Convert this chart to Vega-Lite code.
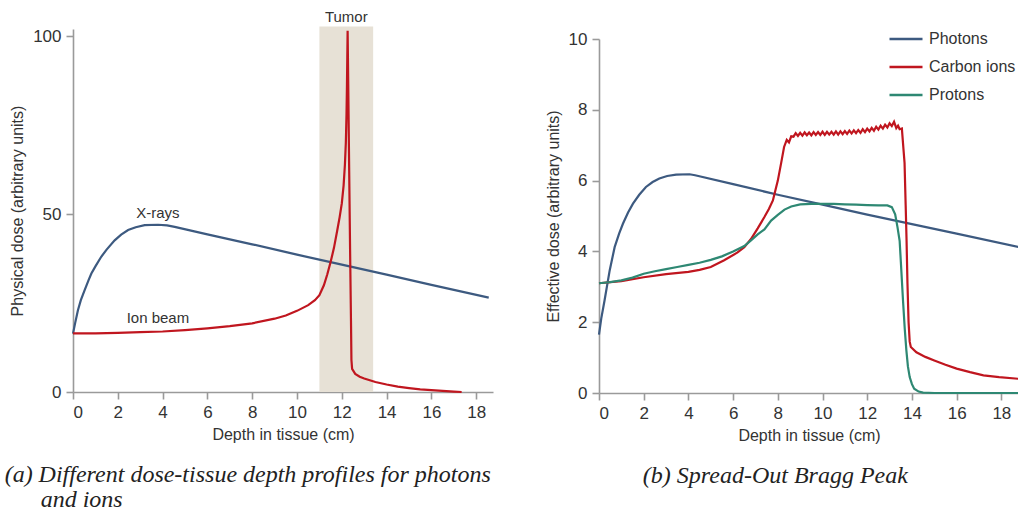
{
  "$schema": "https://vega.github.io/schema/vega-lite/v6.json",
  "padding": {"left": 4, "top": 10, "right": 0, "bottom": 0},
  "background": "white",
  "spacing": 51,
  "resolve": {"scale": {"color": "independent"}, "legend": {"color": "independent"}},
  "config": {
    "font": "Liberation Sans",
    "view": {"stroke": null},
    "axis": {
      "grid": false,
      "domainColor": "#9a9a9a", "domainWidth": 1.6,
      "tickColor": "#9a9a9a", "tickWidth": 1.6, "tickSize": 7,
      "labelFontSize": 17, "labelColor": "#333333", "labelPadding": 5,
      "titleFontSize": 16, "titleFontWeight": "normal", "titleColor": "#333333"
    },
    "title": {"font": "Liberation Serif", "fontStyle": "italic", "fontSize": 24, "fontWeight": "normal", "color": "#222222", "orient": "bottom", "lineHeight": 25}
  },
  "datasets": {
    "tumor": [{"depth": 11.0, "depth2": 13.4, "dose": 0, "dose2": 102.7}],
    "labelsA": [
      {"depth": 12.2, "dose": 105.3, "label": "Tumor"},
      {"depth": 3.79, "dose": 50.2, "label": "X-rays"},
      {"depth": 3.79, "dose": 20.7, "label": "Ion beam"}
    ],
    "curvesA": [
      {"series": "X-rays", "depth": 0, "dose": 16.4},
      {"series": "X-rays", "depth": 0.1, "dose": 19.5},
      {"series": "X-rays", "depth": 0.22, "dose": 23},
      {"series": "X-rays", "depth": 0.35, "dose": 25.8},
      {"series": "X-rays", "depth": 0.52, "dose": 28.6},
      {"series": "X-rays", "depth": 0.7, "dose": 31.5},
      {"series": "X-rays", "depth": 0.82, "dose": 33.3},
      {"series": "X-rays", "depth": 1.0, "dose": 35.3},
      {"series": "X-rays", "depth": 1.26, "dose": 38},
      {"series": "X-rays", "depth": 1.5, "dose": 40},
      {"series": "X-rays", "depth": 1.86, "dose": 42.6},
      {"series": "X-rays", "depth": 2.15, "dose": 44.2},
      {"series": "X-rays", "depth": 2.46, "dose": 45.5},
      {"series": "X-rays", "depth": 2.8, "dose": 46.3},
      {"series": "X-rays", "depth": 3.2, "dose": 46.9},
      {"series": "X-rays", "depth": 3.8, "dose": 47.0},
      {"series": "X-rays", "depth": 4.2, "dose": 46.8},
      {"series": "X-rays", "depth": 4.54, "dose": 46.4},
      {"series": "X-rays", "depth": 6, "dose": 44.3},
      {"series": "X-rays", "depth": 8, "dose": 41.5},
      {"series": "X-rays", "depth": 10, "dose": 38.6},
      {"series": "X-rays", "depth": 12, "dose": 35.8},
      {"series": "X-rays", "depth": 14, "dose": 33},
      {"series": "X-rays", "depth": 16, "dose": 30.1},
      {"series": "X-rays", "depth": 18.56, "dose": 26.5},
      {"series": "Ion beam", "depth": 0, "dose": 16.5},
      {"series": "Ion beam", "depth": 1, "dose": 16.5},
      {"series": "Ion beam", "depth": 2, "dose": 16.6},
      {"series": "Ion beam", "depth": 3, "dose": 16.8},
      {"series": "Ion beam", "depth": 4, "dose": 17.0},
      {"series": "Ion beam", "depth": 5, "dose": 17.4},
      {"series": "Ion beam", "depth": 6, "dose": 17.9},
      {"series": "Ion beam", "depth": 7, "dose": 18.5},
      {"series": "Ion beam", "depth": 8, "dose": 19.3},
      {"series": "Ion beam", "depth": 9, "dose": 20.6},
      {"series": "Ion beam", "depth": 9.5, "dose": 21.5},
      {"series": "Ion beam", "depth": 10, "dose": 22.8},
      {"series": "Ion beam", "depth": 10.5, "dose": 24.4},
      {"series": "Ion beam", "depth": 10.8, "dose": 25.8},
      {"series": "Ion beam", "depth": 11.0, "dose": 27.2},
      {"series": "Ion beam", "depth": 11.2, "dose": 30},
      {"series": "Ion beam", "depth": 11.35, "dose": 33},
      {"series": "Ion beam", "depth": 11.5, "dose": 36.5},
      {"series": "Ion beam", "depth": 11.65, "dose": 40.5},
      {"series": "Ion beam", "depth": 11.8, "dose": 45.5},
      {"series": "Ion beam", "depth": 11.9, "dose": 49},
      {"series": "Ion beam", "depth": 12.0, "dose": 53},
      {"series": "Ion beam", "depth": 12.08, "dose": 58},
      {"series": "Ion beam", "depth": 12.14, "dose": 64},
      {"series": "Ion beam", "depth": 12.18, "dose": 70},
      {"series": "Ion beam", "depth": 12.21, "dose": 78},
      {"series": "Ion beam", "depth": 12.23, "dose": 86},
      {"series": "Ion beam", "depth": 12.245, "dose": 94},
      {"series": "Ion beam", "depth": 12.26, "dose": 101.5},
      {"series": "Ion beam", "depth": 12.29, "dose": 85},
      {"series": "Ion beam", "depth": 12.33, "dose": 62},
      {"series": "Ion beam", "depth": 12.37, "dose": 40},
      {"series": "Ion beam", "depth": 12.41, "dose": 20},
      {"series": "Ion beam", "depth": 12.43, "dose": 9},
      {"series": "Ion beam", "depth": 12.46, "dose": 6.5},
      {"series": "Ion beam", "depth": 12.6, "dose": 5.1},
      {"series": "Ion beam", "depth": 12.8, "dose": 4.3},
      {"series": "Ion beam", "depth": 13.0, "dose": 3.8},
      {"series": "Ion beam", "depth": 13.5, "dose": 2.8},
      {"series": "Ion beam", "depth": 14, "dose": 2.1},
      {"series": "Ion beam", "depth": 14.5, "dose": 1.5},
      {"series": "Ion beam", "depth": 15, "dose": 1.1},
      {"series": "Ion beam", "depth": 15.5, "dose": 0.75},
      {"series": "Ion beam", "depth": 16, "dose": 0.5},
      {"series": "Ion beam", "depth": 16.5, "dose": 0.3},
      {"series": "Ion beam", "depth": 17, "dose": 0.12},
      {"series": "Ion beam", "depth": 17.35, "dose": 0.0}
    ],
    "curvesB": [
      {"series": "Photons", "depth": 0, "dose": 1.65},
      {"series": "Photons", "depth": 0.1, "dose": 2.1},
      {"series": "Photons", "depth": 0.25, "dose": 2.62},
      {"series": "Photons", "depth": 0.48, "dose": 3.47},
      {"series": "Photons", "depth": 0.7, "dose": 4.12},
      {"series": "Photons", "depth": 0.9, "dose": 4.5},
      {"series": "Photons", "depth": 1.07, "dose": 4.78},
      {"series": "Photons", "depth": 1.3, "dose": 5.1},
      {"series": "Photons", "depth": 1.52, "dose": 5.35},
      {"series": "Photons", "depth": 1.8, "dose": 5.6},
      {"series": "Photons", "depth": 2.1, "dose": 5.82},
      {"series": "Photons", "depth": 2.4, "dose": 5.96},
      {"series": "Photons", "depth": 2.7, "dose": 6.06},
      {"series": "Photons", "depth": 3.05, "dose": 6.13},
      {"series": "Photons", "depth": 3.45, "dose": 6.17},
      {"series": "Photons", "depth": 4.05, "dose": 6.18},
      {"series": "Photons", "depth": 4.3, "dose": 6.15},
      {"series": "Photons", "depth": 6, "dose": 5.9},
      {"series": "Photons", "depth": 8, "dose": 5.6},
      {"series": "Photons", "depth": 10, "dose": 5.32},
      {"series": "Photons", "depth": 12, "dose": 5.04},
      {"series": "Photons", "depth": 14, "dose": 4.77},
      {"series": "Photons", "depth": 16, "dose": 4.5},
      {"series": "Photons", "depth": 18.8, "dose": 4.12},
      {"series": "Carbon ions", "depth": 0, "dose": 3.1},
      {"series": "Carbon ions", "depth": 1, "dose": 3.16},
      {"series": "Carbon ions", "depth": 2, "dose": 3.27},
      {"series": "Carbon ions", "depth": 3, "dose": 3.36},
      {"series": "Carbon ions", "depth": 4, "dose": 3.42},
      {"series": "Carbon ions", "depth": 4.5, "dose": 3.48},
      {"series": "Carbon ions", "depth": 5, "dose": 3.56},
      {"series": "Carbon ions", "depth": 5.6, "dose": 3.75},
      {"series": "Carbon ions", "depth": 6.2, "dose": 3.97},
      {"series": "Carbon ions", "depth": 6.5, "dose": 4.12},
      {"series": "Carbon ions", "depth": 6.8, "dose": 4.35},
      {"series": "Carbon ions", "depth": 7.1, "dose": 4.65},
      {"series": "Carbon ions", "depth": 7.4, "dose": 4.97},
      {"series": "Carbon ions", "depth": 7.6, "dose": 5.2},
      {"series": "Carbon ions", "depth": 7.78, "dose": 5.44},
      {"series": "Carbon ions", "depth": 7.9, "dose": 5.75},
      {"series": "Carbon ions", "depth": 8.0, "dose": 6.0},
      {"series": "Carbon ions", "depth": 8.15, "dose": 6.5},
      {"series": "Carbon ions", "depth": 8.28, "dose": 6.95},
      {"series": "Carbon ions", "depth": 8.4, "dose": 7.15},
      {"series": "Carbon ions", "depth": 8.5, "dose": 7.08},
      {"series": "Carbon ions", "depth": 8.6, "dose": 7.25},
      {"series": "Carbon ions", "depth": 8.7, "dose": 7.24},
      {"series": "Carbon ions", "depth": 8.8, "dose": 7.34},
      {"series": "Carbon ions", "depth": 8.9, "dose": 7.26},
      {"series": "Carbon ions", "depth": 9.0, "dose": 7.35},
      {"series": "Carbon ions", "depth": 9.1, "dose": 7.27},
      {"series": "Carbon ions", "depth": 9.2, "dose": 7.36},
      {"series": "Carbon ions", "depth": 9.3, "dose": 7.28},
      {"series": "Carbon ions", "depth": 9.4, "dose": 7.36},
      {"series": "Carbon ions", "depth": 9.5, "dose": 7.28},
      {"series": "Carbon ions", "depth": 9.6, "dose": 7.37},
      {"series": "Carbon ions", "depth": 9.7, "dose": 7.29},
      {"series": "Carbon ions", "depth": 9.8, "dose": 7.37},
      {"series": "Carbon ions", "depth": 9.9, "dose": 7.29},
      {"series": "Carbon ions", "depth": 10.0, "dose": 7.38},
      {"series": "Carbon ions", "depth": 10.1, "dose": 7.29},
      {"series": "Carbon ions", "depth": 10.2, "dose": 7.38},
      {"series": "Carbon ions", "depth": 10.3, "dose": 7.3},
      {"series": "Carbon ions", "depth": 10.4, "dose": 7.38},
      {"series": "Carbon ions", "depth": 10.5, "dose": 7.3},
      {"series": "Carbon ions", "depth": 10.6, "dose": 7.39},
      {"series": "Carbon ions", "depth": 10.7, "dose": 7.3},
      {"series": "Carbon ions", "depth": 10.8, "dose": 7.39},
      {"series": "Carbon ions", "depth": 10.9, "dose": 7.31},
      {"series": "Carbon ions", "depth": 11.0, "dose": 7.4},
      {"series": "Carbon ions", "depth": 11.1, "dose": 7.32},
      {"series": "Carbon ions", "depth": 11.2, "dose": 7.41},
      {"series": "Carbon ions", "depth": 11.3, "dose": 7.33},
      {"series": "Carbon ions", "depth": 11.4, "dose": 7.42},
      {"series": "Carbon ions", "depth": 11.5, "dose": 7.34},
      {"series": "Carbon ions", "depth": 11.6, "dose": 7.43},
      {"series": "Carbon ions", "depth": 11.7, "dose": 7.35},
      {"series": "Carbon ions", "depth": 11.8, "dose": 7.45},
      {"series": "Carbon ions", "depth": 11.9, "dose": 7.37},
      {"series": "Carbon ions", "depth": 12.0, "dose": 7.47},
      {"series": "Carbon ions", "depth": 12.1, "dose": 7.39},
      {"series": "Carbon ions", "depth": 12.2, "dose": 7.49},
      {"series": "Carbon ions", "depth": 12.3, "dose": 7.41},
      {"series": "Carbon ions", "depth": 12.4, "dose": 7.52},
      {"series": "Carbon ions", "depth": 12.5, "dose": 7.44},
      {"series": "Carbon ions", "depth": 12.6, "dose": 7.55},
      {"series": "Carbon ions", "depth": 12.7, "dose": 7.47},
      {"series": "Carbon ions", "depth": 12.8, "dose": 7.58},
      {"series": "Carbon ions", "depth": 12.9, "dose": 7.5},
      {"series": "Carbon ions", "depth": 13.0, "dose": 7.62},
      {"series": "Carbon ions", "depth": 13.1, "dose": 7.54},
      {"series": "Carbon ions", "depth": 13.2, "dose": 7.66},
      {"series": "Carbon ions", "depth": 13.3, "dose": 7.48},
      {"series": "Carbon ions", "depth": 13.38, "dose": 7.55},
      {"series": "Carbon ions", "depth": 13.45, "dose": 7.45},
      {"series": "Carbon ions", "depth": 13.55, "dose": 7.47},
      {"series": "Carbon ions", "depth": 13.62, "dose": 6.9},
      {"series": "Carbon ions", "depth": 13.67, "dose": 6.5},
      {"series": "Carbon ions", "depth": 13.72, "dose": 5.3},
      {"series": "Carbon ions", "depth": 13.76, "dose": 4.3},
      {"series": "Carbon ions", "depth": 13.8, "dose": 3.1},
      {"series": "Carbon ions", "depth": 13.85, "dose": 2.0},
      {"series": "Carbon ions", "depth": 13.9, "dose": 1.45},
      {"series": "Carbon ions", "depth": 13.95, "dose": 1.3},
      {"series": "Carbon ions", "depth": 14.2, "dose": 1.15},
      {"series": "Carbon ions", "depth": 14.6, "dose": 1.02},
      {"series": "Carbon ions", "depth": 15.0, "dose": 0.92},
      {"series": "Carbon ions", "depth": 15.5, "dose": 0.8},
      {"series": "Carbon ions", "depth": 16.0, "dose": 0.69},
      {"series": "Carbon ions", "depth": 16.6, "dose": 0.59},
      {"series": "Carbon ions", "depth": 17.2, "dose": 0.5},
      {"series": "Carbon ions", "depth": 17.9, "dose": 0.45},
      {"series": "Carbon ions", "depth": 18.8, "dose": 0.4},
      {"series": "Protons", "depth": 0, "dose": 3.1},
      {"series": "Protons", "depth": 0.5, "dose": 3.13},
      {"series": "Protons", "depth": 1, "dose": 3.18},
      {"series": "Protons", "depth": 1.5, "dose": 3.26},
      {"series": "Protons", "depth": 2, "dose": 3.37},
      {"series": "Protons", "depth": 2.5, "dose": 3.44},
      {"series": "Protons", "depth": 3, "dose": 3.5},
      {"series": "Protons", "depth": 3.5, "dose": 3.56},
      {"series": "Protons", "depth": 4, "dose": 3.62},
      {"series": "Protons", "depth": 4.5, "dose": 3.68},
      {"series": "Protons", "depth": 5, "dose": 3.76},
      {"series": "Protons", "depth": 5.5, "dose": 3.86},
      {"series": "Protons", "depth": 6, "dose": 4.0},
      {"series": "Protons", "depth": 6.5, "dose": 4.15},
      {"series": "Protons", "depth": 6.8, "dose": 4.31},
      {"series": "Protons", "depth": 7.1, "dose": 4.48},
      {"series": "Protons", "depth": 7.4, "dose": 4.62},
      {"series": "Protons", "depth": 7.7, "dose": 4.87},
      {"series": "Protons", "depth": 8.0, "dose": 5.03},
      {"series": "Protons", "depth": 8.3, "dose": 5.18},
      {"series": "Protons", "depth": 8.6, "dose": 5.27},
      {"series": "Protons", "depth": 9.0, "dose": 5.33},
      {"series": "Protons", "depth": 9.5, "dose": 5.34},
      {"series": "Protons", "depth": 10, "dose": 5.34},
      {"series": "Protons", "depth": 10.5, "dose": 5.34},
      {"series": "Protons", "depth": 11, "dose": 5.33},
      {"series": "Protons", "depth": 11.5, "dose": 5.32},
      {"series": "Protons", "depth": 12, "dose": 5.31},
      {"series": "Protons", "depth": 12.5, "dose": 5.3},
      {"series": "Protons", "depth": 12.9, "dose": 5.3},
      {"series": "Protons", "depth": 13.1, "dose": 5.25},
      {"series": "Protons", "depth": 13.25, "dose": 5.05},
      {"series": "Protons", "depth": 13.35, "dose": 4.7},
      {"series": "Protons", "depth": 13.45, "dose": 4.3},
      {"series": "Protons", "depth": 13.5, "dose": 3.75},
      {"series": "Protons", "depth": 13.6, "dose": 2.62},
      {"series": "Protons", "depth": 13.68, "dose": 1.8},
      {"series": "Protons", "depth": 13.75, "dose": 1.21},
      {"series": "Protons", "depth": 13.82, "dose": 0.75},
      {"series": "Protons", "depth": 13.9, "dose": 0.45},
      {"series": "Protons", "depth": 14.0, "dose": 0.25},
      {"series": "Protons", "depth": 14.1, "dose": 0.12},
      {"series": "Protons", "depth": 14.3, "dose": 0.04},
      {"series": "Protons", "depth": 14.5, "dose": 0.01},
      {"series": "Protons", "depth": 15, "dose": 0},
      {"series": "Protons", "depth": 18.8, "dose": 0}
    ]
  },
  "hconcat": [
    {
      "width": 420,
      "height": 363,
      "title": {
        "text": ["(a) Different dose-tissue depth profiles for photons", "\u200b\u2002\u2002\u2002and ions"],
        "anchor": "start", "frame": "bounds", "offset": 21, "dx": -5
      },
      "encoding": {
        "x": {"field": "depth", "type": "quantitative",
              "scale": {"domain": [0, 18.75], "nice": false},
              "axis": {"values": [0, 2, 4, 6, 8, 10, 12, 14, 16, 18], "title": "Depth in tissue (cm)", "titlePadding": 6}},
        "y": {"field": "dose", "type": "quantitative",
              "scale": {"domain": [0, 102], "nice": false},
              "axis": {"values": [0, 50, 100], "title": "Physical dose (arbitrary units)", "titlePadding": 7}}
      },
      "layer": [
        {
          "data": {"name": "tumor"},
          "mark": {"type": "rect", "color": "#e7e1d6", "clip": false},
          "encoding": {"x2": {"field": "depth2"}, "y2": {"field": "dose2"}}
        },
        {
          "data": {"name": "curvesA"},
          "mark": {"type": "line", "strokeWidth": 2.2, "clip": false},
          "encoding": {
            "color": {"field": "series", "type": "nominal",
                      "scale": {"domain": ["X-rays", "Ion beam"], "range": ["#3d5a80", "#c0161f"]},
                      "legend": null}
          }
        },
        {
          "data": {"name": "labelsA"},
          "mark": {"type": "text", "fontSize": 15, "color": "#333333", "baseline": "middle", "align": "center"},
          "encoding": {"text": {"field": "label"}}
        }
      ]
    },
    {
      "width": 420,
      "height": 364,
      "title": {"text": "(b) Spread-Out Bragg Peak", "anchor": "middle", "frame": "bounds", "offset": 21, "dx": -9},
      "data": {"name": "curvesB"},
      "mark": {"type": "line", "strokeWidth": 2.2, "clip": false},
      "encoding": {
        "x": {"field": "depth", "type": "quantitative",
              "scale": {"domain": [0, 18.79], "nice": false},
              "axis": {"values": [0, 2, 4, 6, 8, 10, 12, 14, 16, 18], "title": "Depth in tissue (cm)", "titlePadding": 6}},
        "y": {"field": "dose", "type": "quantitative",
              "scale": {"domain": [0, 10], "nice": false, "range": [364, 10]},
              "axis": {"values": [0, 2, 4, 6, 8, 10], "title": "Effective dose (arbitrary units)", "titlePadding": 7}},
        "color": {"field": "series", "type": "nominal",
                  "scale": {"domain": ["Photons", "Carbon ions", "Protons"], "range": ["#3d5a80", "#c0161f", "#2e8873"]},
                  "legend": {"title": null, "orient": "none", "legendX": 289, "legendY": -8, "padding": 0,
                             "labelFontSize": 16, "labelColor": "#333333", "symbolType": "stroke",
                             "symbolSize": 1089, "symbolStrokeWidth": 2.5, "rowPadding": 2, "labelOffset": 5}}
      }
    }
  ]
}
